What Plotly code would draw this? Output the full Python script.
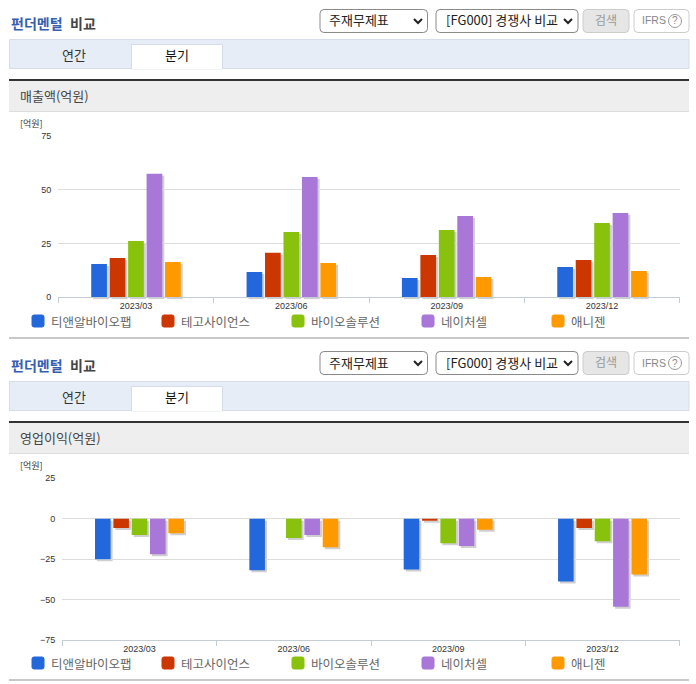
import plotly.graph_objects as go

W, H = 696, 684
PANEL_OFFSET = 342
FONT = "Noto Sans CJK KR"
NUM_FONT = "Liberation Sans"

quarters = ["2023/03", "2023/06", "2023/09", "2023/12"]
companies = ["티앤알바이오팹", "테고사이언스", "바이오솔루션", "네이처셀", "애니젠"]
colors = ["#2268dc", "#cc3700", "#88c20c", "#a877d8", "#ff9900"]

# 매출액(억원), one list per company
sales_tnr = [15.5, 11.8, 9.0, 14.1]
sales_tego = [18.3, 20.7, 19.7, 17.4]
sales_bio = [26.2, 30.4, 31.4, 34.6]
sales_nature = [57.5, 56.0, 37.9, 39.3]
sales_anygen = [16.5, 16.0, 9.5, 12.3]

# 영업이익(억원), 테고사이언스 has no bar in 2023/06
profit_tnr = [-25.2, -32.0, -31.5, -39.0]
profit_tego = [-5.8, None, -1.3, -5.8]
profit_bio = [-10.2, -12.0, -15.2, -14.0]
profit_nature = [-22.0, -10.2, -17.0, -54.6]
profit_anygen = [-9.0, -17.7, -6.9, -34.6]

sales = [sales_tnr, sales_tego, sales_bio, sales_nature, sales_anygen]
profit = [profit_tnr, profit_tego, profit_bio, profit_nature, profit_anygen]

SHADOW = "#cfcfcf"
GRID = "#dddddd"
AXIS = "#c4ccd4"


def px_x(x):
    return x / W


def px_y(y):
    return 1 - y / H


def rect(x0, y0, x1, y1, fill="rgba(0,0,0,0)", line="rgba(0,0,0,0)", width=1):
    return dict(type="rect", xref="paper", yref="paper", layer="below",
                x0=px_x(x0), x1=px_x(x1), y0=px_y(y0), y1=px_y(y1),
                fillcolor=fill, line=dict(color=line, width=width))


def rounded(x0, y0, x1, y1, r, fill, line):
    # rounded box in pixel units, drawn as an SVG path on paper coords
    X, Y = px_x, px_y
    d = (f"M{X(x0 + r)},{Y(y0)} L{X(x1 - r)},{Y(y0)} Q{X(x1)},{Y(y0)} {X(x1)},{Y(y0 + r)} "
         f"L{X(x1)},{Y(y1 - r)} Q{X(x1)},{Y(y1)} {X(x1 - r)},{Y(y1)} "
         f"L{X(x0 + r)},{Y(y1)} Q{X(x0)},{Y(y1)} {X(x0)},{Y(y1 - r)} "
         f"L{X(x0)},{Y(y0 + r)} Q{X(x0)},{Y(y0)} {X(x0 + r)},{Y(y0)} Z")
    return dict(type="path", xref="paper", yref="paper", layer="below", path=d,
                fillcolor=fill, line=dict(color=line, width=1))


def chevron(cx, cy):
    X, Y = px_x, px_y
    d = f"M{X(cx - 4)},{Y(cy - 2)} L{X(cx)},{Y(cy + 2)} L{X(cx + 4)},{Y(cy - 2)}"
    return dict(type="path", xref="paper", yref="paper", path=d,
                line=dict(color="#222222", width=2))


def label(x, y, text, size=12, color="#444444", anchor="left", family=FONT):
    # CJK glyphs sit about 1px low and right of the requested spot
    if family == FONT:
        y -= 1
        if anchor == "left":
            x -= 1
    return dict(xref="paper", yref="paper", x=px_x(x), y=px_y(y), text=text,
                showarrow=False, xanchor=anchor, yanchor="middle", borderpad=0,
                font=dict(family=family, size=size, color=color))


def panel_chrome(dy, heading):
    shapes = [
        rounded(320, 9.5 + dy, 427.5, 32.5 + dy, 4, "#ffffff", "#8a8a8a"),
        rounded(436, 9.5 + dy, 578, 32.5 + dy, 4, "#ffffff", "#8a8a8a"),
        rounded(583, 9.5 + dy, 629, 32.5 + dy, 4, "#e6e6e6", "#cccccc"),
        rounded(634, 9.5 + dy, 689, 32.5 + dy, 4, "#ffffff", "#cccccc"),
        chevron(418, 21 + dy),
        chevron(568, 21 + dy),
        dict(type="circle", xref="paper", yref="paper",
             x0=px_x(668.5), x1=px_x(681.5), y0=px_y(14.5 + dy), y1=px_y(27.5 + dy),
             line=dict(color="#999999", width=1)),
        rect(9.5, 39.5 + dy, 689, 68.5 + dy, "#e6edf7", "#d6dde8"),
        rect(131.5, 44.5 + dy, 222.5, 69 + dy, "#ffffff", "#d6dde8"),
        rect(132, 66 + dy, 222, 69.2 + dy, "#ffffff"),
        rect(9, 81 + dy, 689, 111.5 + dy, "#eeeeee"),
        rect(9, 79 + dy, 689, 81 + dy, "#333333"),
        rect(9, 111 + dy, 689, 112 + dy, "#dddddd"),
        rect(9, 337 + dy, 689, 339 + dy, "#c8c8c8"),
    ]
    notes = [
        label(10.5, 24 + dy, "<b>펀더멘털</b>", 14, "#3560b0"),
        label(69.5, 24 + dy, "<b>비교</b>", 14, "#444444"),
        label(329, 21 + dy, "주재무제표", 13, "#222222"),
        label(446, 21 + dy, "[FG000] 경쟁사 비교", 13, "#222222"),
        label(606, 20.5 + dy, "검색", 12, "#999999", "center"),
        label(641, 20.5 + dy, "IFRS", 10.5, "#888888", family=NUM_FONT),
        label(675, 21 + dy, "?", 10, "#888888", "center", NUM_FONT),
        label(74, 56 + dy, "연간", 13, "#333333", "center"),
        label(177, 56 + dy, "분기", 13, "#111111", "center"),
        label(20, 96.5 + dy, heading, 13, "#444444"),
        label(20, 124 + dy, "[억원]", 9, "#333333"),
    ]
    # hand placed legend row, the entries sit on a fixed 130px pitch
    for i, (name, col) in enumerate(zip(companies, colors)):
        x = 32 + 130 * i
        shapes.append(rounded(x, 315 + dy, x + 12, 327 + dy, 2, col, col))
        notes.append(label(x + 19, 322 + dy, name, 12.5, "#666666"))
    return shapes, notes


fig = go.Figure()

# each chart is two subplots: a grey copy of the bars nudged 2px, then the real bars on top
charts = [
    (sales, "x", "y", "x2", "y2"),
    (profit, "x3", "y3", "x4", "y4"),
]
for values, xs, ys, xm, ym in charts:
    for series, name, col in zip(values, companies, colors):
        fig.add_trace(go.Bar(x=quarters, y=series, xaxis=xs, yaxis=ys, name=name,
                             marker=dict(color=SHADOW, line_width=0),
                             showlegend=False, hoverinfo="skip"))
    for series, name, col in zip(values, companies, colors):
        fig.add_trace(go.Bar(x=quarters, y=series, xaxis=xm, yaxis=ym, name=name,
                             marker=dict(color=col, line_width=0), showlegend=False))

shapes_top, notes_top = panel_chrome(0, "매출액(억원)")
shapes_bot, notes_bot = panel_chrome(PANEL_OFFSET, "영업이익(억원)")


def x_axis(x0, x1, anchor, visible=True):
    return dict(domain=[px_x(x0), px_x(x1)], anchor=anchor, visible=visible, type="category",
                categoryorder="array", categoryarray=quarters, showgrid=False,
                tickson="boundaries", ticks="outside", ticklen=5, tickcolor=AXIS,
                showline=True, linecolor=AXIS, linewidth=1,
                tickfont=dict(family=NUM_FONT, size=9, color="#333333"))


def y_axis(y_top, y_bot, anchor, rng, ticks, visible=True):
    return dict(domain=[px_y(y_bot), px_y(y_top)], anchor=anchor, visible=visible,
                range=rng, tickvals=ticks, showgrid=True, gridcolor=GRID, gridwidth=1,
                zeroline=True, zerolinecolor=GRID, zerolinewidth=1, showline=False,
                ticks="", ticklabelstandoff=6,
                tickfont=dict(family=NUM_FONT, size=9, color="#333333"))


SH = 2
fig.update_layout(
    width=W, height=H,
    margin=dict(l=0, r=0, t=0, b=0, pad=0, autoexpand=False),
    paper_bgcolor="#ffffff", plot_bgcolor="rgba(0,0,0,0)",
    barmode="group", bargap=0.406, bargroupgap=0.15,
    showlegend=False,
    shapes=shapes_top + shapes_bot,
    annotations=notes_top + notes_bot,
    xaxis=x_axis(58.3 + SH, 679.7 + SH, "y", visible=False),
    yaxis=y_axis(136.3 + SH, 297.3 + SH, "x", [0, 75], [0, 25, 50, 75], visible=False),
    xaxis2=x_axis(58.3, 679.7, "y2"),
    yaxis2=y_axis(136.3, 297.3, "x2", [0, 75], [0, 25, 50, 75]),
    xaxis3=x_axis(62.3 + SH, 679.7 + SH, "y3", visible=False),
    yaxis3=y_axis(478.3 + SH, 639.7 + SH, "x3", [-75, 25], [-75, -50, -25, 0, 25], visible=False),
    xaxis4=x_axis(62.3, 679.7, "y4"),
    yaxis4=y_axis(478.3, 639.7, "x4", [-75, 25], [-75, -50, -25, 0, 25]),
)

fig.write_html("out.html", config=dict(displayModeBar=False),
               post_script="document.body.style.margin='0';document.body.style.overflow='hidden';")
